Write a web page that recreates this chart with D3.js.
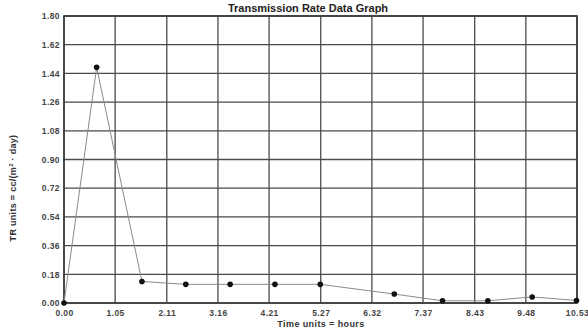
<!DOCTYPE html>
<html>
<head>
<meta charset="utf-8">
<script src="https://cdn.jsdelivr.net/npm/d3@7"></script>
<style>
  html, body { margin: 0; padding: 0; background: #fff; }
  svg { display: block; }
  text { font-family: Arial, "Liberation Sans", sans-serif; }
</style>
</head>
<body>
<svg id="chart" width="588" height="334"></svg>
<script>
// Measurement series: elapsed time (hours) and transmission rate
const timeHours = [0.00, 0.67, 1.60, 2.50, 3.41, 4.33, 5.26, 6.78, 7.77, 8.70, 9.61, 10.52];
const rateValues = [0.000, 1.478, 0.135, 0.117, 0.117, 0.117, 0.117, 0.056, 0.014, 0.014, 0.038, 0.016];

// Axis tick labels
const xTickLabels = ["0.00", "1.05", "2.11", "3.16", "4.21", "5.27", "6.32", "7.37", "8.43", "9.48", "10.53"];
const yTickLabels = ["0.00", "0.18", "0.36", "0.54", "0.72", "0.90", "1.08", "1.26", "1.44", "1.62", "1.80"];

const chartTitle = "Transmission Rate Data Graph";
const xTitle = "Time units = hours";

const svg = d3.select("#chart");
const plotLeft = 64, plotRight = 577, plotTop = 16, plotBottom = 303;

const x = d3.scaleLinear().domain([0, 10.53]).range([plotLeft, plotRight]);
const y = d3.scaleLinear().domain([0, 1.80]).range([plotBottom, plotTop]);

const xTicks = xTickLabels.map(Number);
const yTicks = yTickLabels.map(Number);

// Grid
const grid = svg.append("g");
grid.selectAll("line.v").data(xTicks).join("line")
  .attr("class", "v")
  .attr("x1", d => x(d)).attr("x2", d => x(d))
  .attr("y1", plotTop).attr("y2", plotBottom)
  .attr("stroke", "#4a4a4a").attr("stroke-width", 1.3);
grid.selectAll("line.h").data(yTicks).join("line")
  .attr("class", "h")
  .attr("y1", d => y(d)).attr("y2", d => y(d))
  .attr("x1", plotLeft).attr("x2", plotRight)
  .attr("stroke", "#4a4a4a").attr("stroke-width", 1.3);
svg.append("rect")
  .attr("x", plotLeft).attr("y", plotTop)
  .attr("width", plotRight - plotLeft).attr("height", plotBottom - plotTop)
  .attr("fill", "none").attr("stroke", "#3a3a3a").attr("stroke-width", 1.6);

// Axes (labels only)
const xAxis = d3.axisBottom(x).tickValues(xTicks).tickSize(0).tickPadding(7)
  .tickFormat((d, i) => xTickLabels[i]);
const yAxis = d3.axisLeft(y).tickValues(yTicks).tickSize(0).tickPadding(4)
  .tickFormat((d, i) => yTickLabels[i]);

const gx = svg.append("g").attr("transform", `translate(0,${plotBottom})`).call(xAxis);
const gy = svg.append("g").attr("transform", `translate(${plotLeft},0)`).call(yAxis);
[gx, gy].forEach(g => {
  g.select(".domain").remove();
  g.selectAll("text")
    .attr("fill", "#444")
    .style("font-size", "8.5px")
    .style("font-weight", "bold")
    .style("letter-spacing", "0.4px")
    .style("font-family", "Arial, 'Liberation Sans', sans-serif");
});

// Data line and markers
const line = d3.line().x((d, i) => x(timeHours[i])).y(d => y(d));
svg.append("path")
  .datum(rateValues)
  .attr("d", line)
  .attr("fill", "none")
  .attr("stroke", "#8a8a8a")
  .attr("stroke-width", 1);
svg.selectAll("circle.pt").data(rateValues).join("circle")
  .attr("class", "pt")
  .attr("cx", (d, i) => x(timeHours[i]))
  .attr("cy", d => y(d))
  .attr("r", 2.8)
  .attr("fill", "#111");

// Titles
svg.append("text")
  .attr("x", 308).attr("y", 12)
  .attr("text-anchor", "middle")
  .style("font-size", "11px").style("font-weight", "bold")
  .attr("fill", "#222")
  .text(chartTitle);

svg.append("text")
  .attr("x", 321).attr("y", 327)
  .attr("text-anchor", "middle")
  .style("font-size", "9px").style("font-weight", "bold")
  .style("letter-spacing", "0.4px")
  .attr("fill", "#333")
  .text(xTitle);

const yLabel = svg.append("text")
  .attr("transform", "translate(16,188) rotate(-90)")
  .attr("text-anchor", "middle")
  .style("font-size", "9px").style("font-weight", "bold")
  .style("letter-spacing", "0.3px")
  .attr("fill", "#333");
yLabel.append("tspan").text("TR units = cc/(m");
yLabel.append("tspan").attr("dy", -3).style("font-size", "6px").text("2");
yLabel.append("tspan").attr("dy", 3).text(" · day)");
</script>
</body>
</html>
